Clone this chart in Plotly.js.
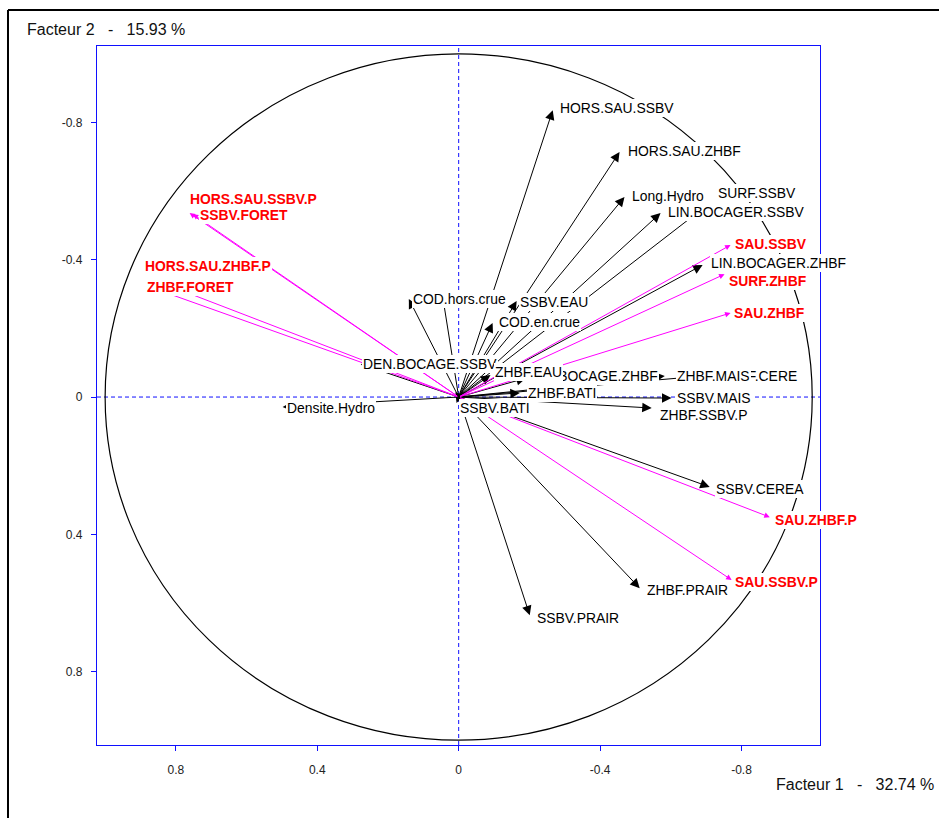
<!DOCTYPE html>
<html>
<head>
<meta charset="utf-8">
<script src="https://cdn.plot.ly/plotly-3.0.1.min.js"></script>
<style>html,body{margin:0;padding:0;background:#fff;}#chart{width:939px;height:818px;}</style>
</head>
<body>
<div id="chart"></div>
<script>
// Active variables (black arrows)
const activeNames = ['HORS.SAU.SSBV','HORS.SAU.ZHBF','Long.Hydro','LIN.BOCAGER.SSBV','SURF.SSBV','LIN.BOCAGER.ZHBF',
  'COD.hors.crue','','SSBV.EAU','COD.en.crue','DEN.BOCAGE.SSBV','DEN.BOCAGE.ZHBF','ZHBF.EAU','ZHBF.CERE','ZHBF.MAIS',
  'ZHBF.BATI','SSBV.MAIS','ZHBF.SSBV.P','SSBV.BATI','Densite.Hydro','SSBV.CEREA','ZHBF.PRAIR','SSBV.PRAIR'];
const activeF1 = [-0.266,-0.455,-0.469,-0.571,-0.685,-0.690,
  0.141,0.045,-0.164,-0.096,0.277,-0.190,-0.090,-0.721,-0.583,
  -0.173,-0.602,-0.546,0.006,0.498,-0.710,-0.512,-0.201];
const activeF2 = [-0.836,-0.714,-0.583,-0.536,-0.545,-0.385,
  -0.286,-0.291,-0.280,-0.216,-0.096,-0.055,-0.064,-0.064,-0.061,
  -0.012,0.003,0.032,0.017,0.029,0.262,0.557,0.636];

// Supplementary variables (magenta arrows, red labels)
const suppNames = ['HORS.SAU.SSBV.P','SSBV.FORET','HORS.SAU.ZHBF.P','ZHBF.FORET','SAU.SSBV','SURF.ZHBF','SAU.ZHBF','SAU.ZHBF.P','SAU.SSBV.P'];
const suppF1 = [0.761,0.752,0.846,0.874,-0.769,-0.752,-0.769,-0.880,-0.772];
const suppF2 = [-0.536,-0.533,-0.335,-0.321,-0.443,-0.358,-0.245,0.350,0.533];

const xTicks = [0.8,0.4,0,-0.4,-0.8];
const xTickText = ['0.8','0.4','0','-0.4','-0.8'];
const yTicks = [-0.8,-0.4,0,0.4,0.8];
const yTickText = ['-0.8','-0.4','0','0.4','0.8'];

const xTitle = 'Facteur 1   -   32.74 %';
const yTitle = 'Facteur 2   -   15.93 %';

// label placement offsets (pixels, right/down from arrow tip)
const labelOffset = {
  'HORS.SAU.SSBV':[6,-2],'HORS.SAU.ZHBF':[7,-1],'Long.Hydro':[7,-1],'LIN.BOCAGER.SSBV':[6,-1],'SURF.SSBV':[16,-17],
  'LIN.BOCAGER.ZHBF':[7,-2],'COD.hors.crue':[3,0],'SSBV.EAU':[2,1],'COD.en.crue':[5,-1],'DEN.BOCAGE.SSBV':[1,0],
  'DEN.BOCAGE.ZHBF':[-2,-2],'ZHBF.EAU':[3,-3],'ZHBF.CERE':[5,1],'ZHBF.MAIS':[11,0],'ZHBF.BATI':[7,0],'SSBV.MAIS':[4,0],
  'ZHBF.SSBV.P':[7,7],'SSBV.BATI':[2,5],'Densite.Hydro':[3,1],'SSBV.CEREA':[5,2],'ZHBF.PRAIR':[6,2],'SSBV.PRAIR':[6,3],
  'HORS.SAU.SSBV.P':[-1,-14],'SSBV.FORET':[6,1],'HORS.SAU.ZHBF.P':[-16,-16],'ZHBF.FORET':[-4,0],'SAU.SSBV':[3,-1],
  'SURF.ZHBF':[3,7],'SAU.ZHBF':[2,0],'SAU.ZHBF.P':[4,3],'SAU.SSBV.P':[2,2]
};

const FONT = '"Liberation Sans", Arial, sans-serif';
const annotations = [];
function arrow(x, y, color, size) {
  annotations.push({x:x, y:y, xref:'x', yref:'y', ax:0, ay:0, axref:'x', ayref:'y', text:'',
    showarrow:true, arrowhead:2, arrowsize:size, arrowwidth:1, arrowcolor:color, standoff:0, startstandoff:0});
}
function label(name, x, y, color, bold) {
  if (!name) return;
  const o = labelOffset[name] || [4,0];
  annotations.push({x:x, y:y, xref:'x', yref:'y', text: bold ? '<b>'+name+'</b>' : name, showarrow:false,
    xanchor:'left', yanchor:'middle', xshift:o[0], yshift:-o[1], bgcolor:'#ffffff', borderpad:1, borderwidth:0,
    font:{family:FONT, size:13.9, color:color}});
}
activeNames.forEach((n,i)=>arrow(activeF1[i], activeF2[i], '#000000', 1.9));
suppNames.forEach((n,i)=>arrow(suppF1[i], suppF2[i], '#ff00ff', 1.1));
activeNames.forEach((n,i)=>label(n, activeF1[i], activeF2[i], '#000000', false));
suppNames.forEach((n,i)=>label(n, suppF1[i], suppF2[i], '#ff0000', true));

annotations.push({xref:'paper', yref:'paper', x:-0.0996, y:1.0243, xanchor:'left', yanchor:'middle', showarrow:false,
  text:yTitle.replace(/ /g,'&nbsp;'), font:{family:FONT, size:16, color:'#111'}});
annotations.push({xref:'paper', yref:'paper', x:0.936, y:-0.0572, xanchor:'left', yanchor:'middle', showarrow:false,
  text:xTitle.replace(/ /g,'&nbsp;'), font:{family:FONT, size:16, color:'#111'}});

const blue = '#1010ff';
const shapes = [
  {type:'circle', xref:'x', yref:'y', x0:-1, x1:1, y0:-1, y1:1, line:{color:'#000', width:1.2}, layer:'below'},
  {type:'line', xref:'x', yref:'paper', x0:0, x1:0, y0:0, y1:1, line:{color:blue, width:1, dash:'4px,3px'}, layer:'below'},
  {type:'line', xref:'paper', yref:'y', x0:0, x1:1, y0:0, y1:0, line:{color:blue, width:1, dash:'4px,3px'}, layer:'below'},
  // outer frame
  {type:'line', xref:'paper', yref:'paper', x0:-0.1231, x1:1.3, y0:1.0515, y1:1.0515, line:{color:'#000', width:2}},
  {type:'line', xref:'paper', yref:'paper', x0:-0.1231, x1:-0.1231, y0:1.0515, y1:-0.12, line:{color:'#000', width:2}}
];

const layout = {
  width:939, height:818,
  margin:{l:97, r:119, t:46, b:73, pad:0},
  paper_bgcolor:'#ffffff', plot_bgcolor:'#ffffff',
  showlegend:false,
  xaxis:{range:[1.023,-1.022], autorange:false, tickmode:'array', tickvals:xTicks, ticktext:xTickText,
    showgrid:false, zeroline:false, showline:true, mirror:true, linecolor:blue, linewidth:1.2,
    ticks:'outside', ticklen:5, tickcolor:blue, tickwidth:1, ticklabelstandoff:8,
    tickfont:{family:FONT, size:12, color:'#222'}, fixedrange:true},
  yaxis:{range:[1.014,-1.023], autorange:false, tickmode:'array', tickvals:yTicks, ticktext:yTickText,
    showgrid:false, zeroline:false, showline:true, mirror:true, linecolor:blue, linewidth:1.2,
    ticks:'outside', ticklen:5, tickcolor:blue, tickwidth:1, ticklabelstandoff:6,
    tickfont:{family:FONT, size:12, color:'#222'}, fixedrange:true},
  shapes:shapes,
  annotations:annotations
};
const data = [{type:'scatter', mode:'markers', x:[], y:[], hoverinfo:'skip'}];
Plotly.newPlot('chart', data, layout, {staticPlot:true, displayModeBar:false});
</script>
</body>
</html>
